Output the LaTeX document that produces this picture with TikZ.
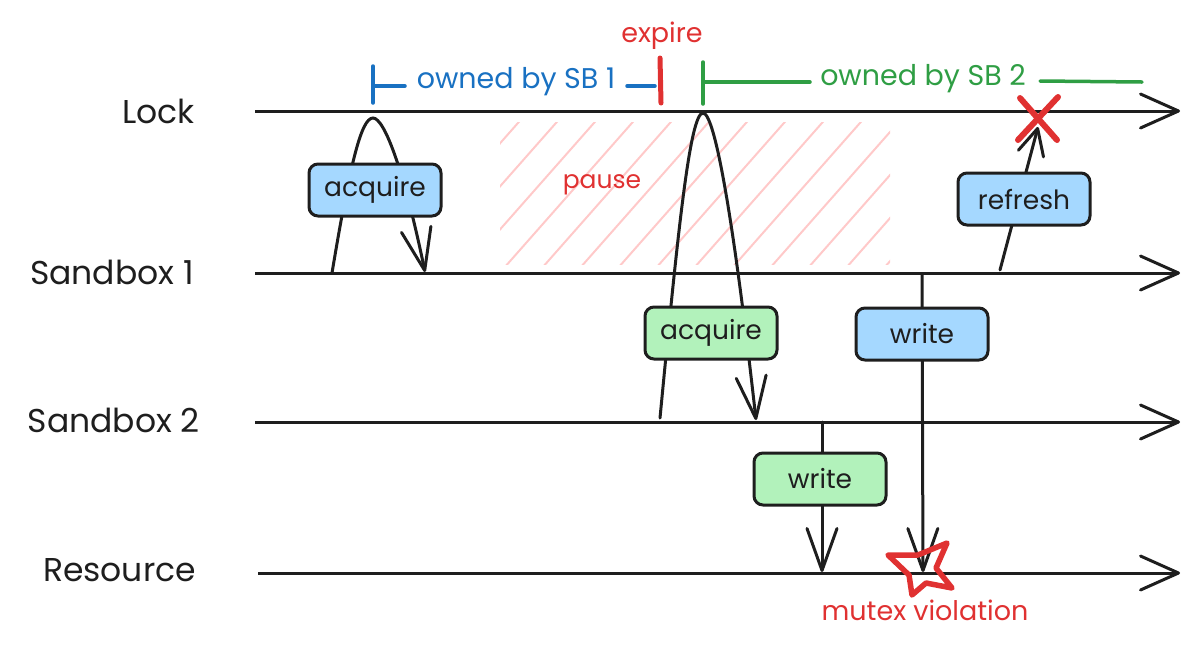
\documentclass[tikz,border=0pt]{standalone}
\usepackage{fontspec}
\setmainfont{Poppins}
\usetikzlibrary{arrows.meta}
\definecolor{ink}{HTML}{1E1E1E}
\definecolor{sbblue}{HTML}{1971C2}
\definecolor{sbgreen}{HTML}{2F9E44}
\definecolor{alert}{HTML}{E03131}
\definecolor{fillblue}{HTML}{A5D8FF}
\definecolor{fillgreen}{HTML}{B2F2BB}
\definecolor{hatchpink}{HTML}{FFC9C9}
\begin{document}
\begin{tikzpicture}[x=1pt,y=-1pt,
  lane/.style={line width=3pt, draw=ink, -{Straight Barb[length=38pt,width=34pt,round]}},
  flow/.style={line width=3pt, draw=ink, line cap=round},
  flowarrow/.style={flow, -{Straight Barb[length=42pt,width=30pt,round]}},
  shortarrow/.style={flow, -{Straight Barb[length=26pt,width=26pt,round]}},
  lanelabel/.style={font=\fontsize{33}{38}\selectfont, text=ink, anchor=east, inner sep=0pt},
  msgbox/.style={draw=ink, line width=3pt, rounded corners=9pt, minimum width=132pt, minimum height=52pt, font=\fontsize{26.5}{30}\selectfont, text=ink, inner sep=0pt},
  bluebox/.style={msgbox, fill=fillblue},
  greenbox/.style={msgbox, fill=fillgreen},
  owntext/.style={font=\fontsize{28.5}{32}\selectfont, inner sep=0pt},
  redtext/.style={font=\fontsize{27}{31}\selectfont, text=alert, inner sep=0pt},
  bracket/.style={line width=3.5pt, line cap=round},
  hatch/.style={draw=hatchpink, line width=2pt, line cap=round},
]
\useasboundingbox (0,0) rectangle (1200,649);

% lane labels
\node[lanelabel] (lockL) at (195,111) {Lock};
\node[lanelabel] (sb1L) at (194,272) {Sandbox 1};
\node[lanelabel] (sb2L) at (200,420) {Sandbox 2};
\node[lanelabel] (resL) at (196,570) {Resource};

% pause hatch
\begin{scope}
  \clip (500,122) rectangle (890,264);
  \foreach \x in {352,390,...,900}
    \draw[hatch] (\x,268) -- ++(150,-170);
\end{scope}
\node[redtext, font=\fontsize{25}{30}\selectfont] (pause) at (602,185) {pause};

% lane lines
\coordinate (lock0) at (255,111);  \coordinate (lock1) at (1180,111);
\coordinate (sb10)  at (255,273);  \coordinate (sb11)  at (1180,273);
\coordinate (sb20)  at (255,422);  \coordinate (sb21)  at (1180,422);
\coordinate (res0)  at (258,573);  \coordinate (res1)  at (1180,573);
\draw[lane] (lock0) -- (lock1);
\draw[lane] (sb10) -- (sb11);
\draw[lane] (sb20) -- (sb21);
\draw[lane] (res0) -- (res1);

% acquire 1 (Sandbox 1 -> Lock -> Sandbox 1)
\coordinate (a1s) at (332,273);
\coordinate (a1p) at (373,118);
\coordinate (a1e) at (425,272);
\draw[flowarrow] (a1s) .. controls (350,165) and (361,118) .. (a1p)
  .. controls (385,118) and (405,175) .. (a1e);

% acquire 2 (Sandbox 2 -> Lock -> Sandbox 2)
\coordinate (a2s) at (660,418);
\coordinate (a2p) at (703,113);
\coordinate (a2e) at (756,420);
\draw[flowarrow] (a2s) .. controls (678,230) and (690,113) .. (a2p)
  .. controls (716,113) and (736,240) .. (a2e);

% write 1 (Sandbox 1 -> Resource)
\coordinate (w1s) at (922,275);
\coordinate (w1e) at (923,572);
\draw[flowarrow] (w1s) -- (w1e);

% write 2 (Sandbox 2 -> Resource)
\coordinate (w2s) at (822,422);
\coordinate (w2e) at (822,572);
\draw[flowarrow] (w2s) -- (w2e);

% refresh (Sandbox 1 -> Lock)
\coordinate (rfs) at (1000,270);
\coordinate (rfe) at (1038,127);
\draw[shortarrow] (rfs) -- (rfe);

% boxes
\node[bluebox]  (acq1) at (375,190) {acquire};
\node[greenbox] (acq2) at (711,333) {acquire};
\node[bluebox]  (wr1)  at (922,334) {write};
\node[greenbox] (wr2)  at (820,479) {write};
\node[bluebox]  (rfr)  at (1024,199) {refresh};

% ownership brackets
\coordinate (b1a) at (373,66);  \coordinate (b1b) at (373,103);
\coordinate (b1c) at (373,86);  \coordinate (b1d) at (405,86);
\coordinate (b1e) at (627,86);  \coordinate (b1f) at (655,86);
\draw[bracket, sbblue] (b1a) -- (b1b);
\draw[bracket, sbblue] (b1c) -- (b1d);
\node[owntext, text=sbblue] (own1) at (516,82) {owned by SB 1};
\draw[bracket, sbblue] (b1e) -- (b1f);
\coordinate (exa) at (660,58); \coordinate (exb) at (661,103);
\draw[bracket, alert, line width=5pt] (exa) -- (exb);
\node[redtext] (expire) at (662,36) {expire};

\coordinate (b2a) at (703,62);  \coordinate (b2b) at (703,104);
\coordinate (b2c) at (703,82);  \coordinate (b2d) at (810,82);
\coordinate (b2e) at (1040,81); \coordinate (b2f) at (1142,82);
\draw[bracket, sbgreen] (b2a) -- (b2b);
\draw[bracket, sbgreen] (b2c) -- (b2d);
\node[owntext, text=sbgreen] (own2) at (923,79) {owned by SB 2};
\draw[bracket, sbgreen] (b2e) -- (b2f);

% refresh rejected cross
\coordinate (xa) at (1020,98); \coordinate (xb) at (1057,140);
\coordinate (xc) at (1058,97); \coordinate (xd) at (1018,140);
\draw[alert, line width=6pt, line cap=round] (xa) -- (xb);
\draw[alert, line width=6pt, line cap=round] (xc) -- (xd);

% mutex violation star
\draw[alert, line width=5.5pt, line join=round]
  (947,543) -- (936,568) -- (952,588) -- (926,583) -- (912,595)
  -- (909,575) -- (888,555) -- (918,555) -- cycle;
\node[redtext] (mutex) at (925,610) {mutex violation};
\end{tikzpicture}
\end{document}
